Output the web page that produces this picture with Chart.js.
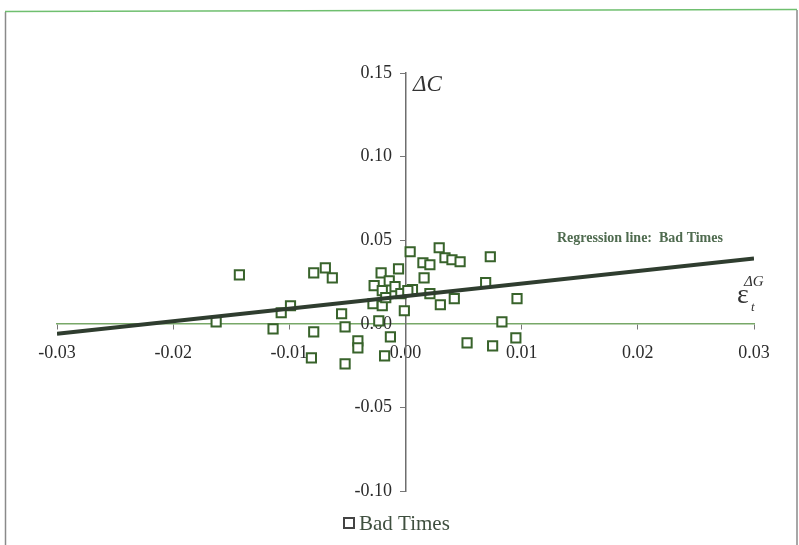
<!DOCTYPE html>
<html>
<head>
<meta charset="utf-8">
<script src="https://cdn.jsdelivr.net/npm/chart.js"></script>
<style>
  html, body { margin: 0; padding: 0; background: #fff; }
  #wrap { width: 799px; height: 545px; }
</style>
</head>
<body>
<div id="wrap"><canvas id="chart" width="799" height="545"></canvas></div>
<script>
// tick values
const xTicks = [-0.03, -0.02, -0.01, 0, 0.01, 0.02, 0.03];
const yTicks = [-0.10, -0.05, 0, 0.05, 0.10, 0.15];

const badX = [-0.0163, -0.0143, -0.0114, -0.0107, -0.0099, -0.0079, -0.0069, -0.0063, -0.0079, -0.0081,
  -0.0055, -0.0052, -0.0041, -0.0041, -0.0052, -0.0027, -0.0021, -0.0014, -0.0020, -0.0009,
  -0.0004, -0.0028, -0.0020, -0.0017, -0.0001, -0.0013, -0.0018, -0.0023, -0.0006, 0.0004,
  0.0015, 0.0021, 0.0029, 0.0034, 0.0040, 0.0047, 0.0073, 0.0016, 0.0006, 0.0021,
  0.0030, 0.0042, 0.0069, 0.0096, 0.0083, 0.0053, 0.0075, 0.0095, 0.0002];
const badY = [0.0012, 0.0293, -0.0030, 0.0066, 0.0108, 0.0305, 0.0335, 0.0275, -0.0048, -0.0204,
  0.0060, -0.0018, -0.0102, -0.0144, -0.0240, 0.0228, 0.0305, 0.0257, 0.0198, 0.0222,
  0.0180, 0.0120, 0.0108, 0.0156, 0.0078, -0.0078, -0.0192, 0.0018, 0.0329, 0.0431,
  0.0365, 0.0353, 0.0455, 0.0395, 0.0383, 0.0371, 0.0401, 0.0275, 0.0204, 0.0180,
  0.0114, 0.0150, 0.0246, 0.0150, 0.0012, -0.0114, -0.0132, -0.0084, 0.0198];

// regression line: Bad Times
const regX = [-0.03, 0.03];
const regY = [-0.006, 0.039];

const serif = '"Liberation Serif", "DejaVu Serif", serif';

// frame + extra labels
const extras = {
  id: 'extras',
  beforeDraw(chart) {
    const ctx = chart.ctx;
    ctx.save();
    ctx.fillStyle = '#fff';
    ctx.fillRect(0, 0, chart.width, chart.height);
    ctx.lineWidth = 1.5;
    ctx.strokeStyle = '#8a8a8a';
    ctx.beginPath();
    ctx.moveTo(5.5, 12); ctx.lineTo(5.5, 545);
    ctx.moveTo(797, 10); ctx.lineTo(797, 545);
    ctx.stroke();
    ctx.strokeStyle = '#6fbf6f';
    ctx.beginPath();
    ctx.moveTo(5, 11.5); ctx.lineTo(797, 9.5);
    ctx.stroke();
    ctx.restore();
  },
  afterDraw(chart) {
    const ctx = chart.ctx;
    ctx.save();
    ctx.textBaseline = 'alphabetic';
    // regression label
    ctx.fillStyle = '#4f6b4f';
    ctx.font = 'bold 14px ' + serif;
    ctx.fillText('Regression line:  Bad Times', 557, 242);
    // axis names
    ctx.fillStyle = '#333';
    ctx.font = 'italic 23px ' + serif;
    ctx.fillText('\u0394C', 413, 91);
    ctx.font = '28px ' + serif;
    ctx.fillText('\u03b5', 737, 303);
    ctx.font = 'italic 15px ' + serif;
    ctx.fillText('\u0394G', 744, 286);
    ctx.font = 'italic 13px ' + serif;
    ctx.fillText('t', 751, 311);
    // legend
    ctx.strokeStyle = '#444';
    ctx.lineWidth = 2;
    ctx.strokeRect(344, 518, 10, 10);
    ctx.fillStyle = '#3f4f3f';
    ctx.font = '21px ' + serif;
    ctx.fillText('Bad Times', 359, 530);
    ctx.restore();
  }
};

new Chart(document.getElementById('chart'), {
  type: 'scatter',
  data: {
    datasets: [
      {
        type: 'line',
        label: 'Regression line: Bad Times',
        data: regX.map((x, i) => ({ x, y: regY[i] })),
        borderColor: '#2f3d2f',
        borderWidth: 4,
        pointRadius: 0,
        fill: false
      },
      {
        label: 'Bad Times',
        data: badX.map((x, i) => ({ x, y: badY[i] })),
        pointStyle: 'rect',
        pointRadius: 6.5,
        borderWidth: 2,
        borderColor: '#38632b',
        backgroundColor: '#fff'
      }
    ]
  },
  options: {
    responsive: false,
    animation: false,
    devicePixelRatio: 1,
    layout: { padding: { left: 57, right: 45, top: 73, bottom: 54 } },
    plugins: { legend: { display: false }, tooltip: { enabled: false } },
    scales: {
      x: {
        type: 'linear',
        position: { y: 0 },
        min: -0.03, max: 0.03,
        afterBuildTicks: s => { s.ticks = xTicks.map(v => ({ value: v })); },
        grid: { drawOnChartArea: false, tickLength: 5, color: '#777' },
        border: { color: '#78a868', width: 1.5 },
        ticks: {
          padding: 14, color: '#2b2b2b', maxRotation: 0,
          font: { family: serif, size: 18 },
          callback: v => v.toFixed(2)
        }
      },
      y: {
        type: 'linear',
        position: { x: 0 },
        min: -0.10, max: 0.15,
        afterBuildTicks: s => { s.ticks = yTicks.map(v => ({ value: v })); },
        grid: { drawOnChartArea: false, tickLength: 5, color: '#777' },
        border: { color: '#6e6e6e', width: 1.5 },
        ticks: {
          color: '#2b2b2b',
          font: { family: serif, size: 18 },
          // positioned axis ignores padding, so pad with trailing spaces
          callback: v => v.toFixed(2) + '   '
        }
      }
    }
  },
  plugins: [extras]
});
</script>
</body>
</html>
